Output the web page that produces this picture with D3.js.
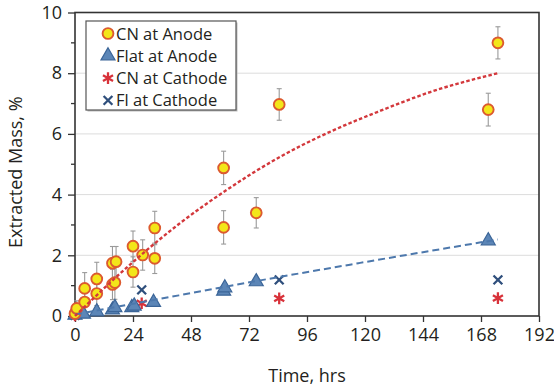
<!DOCTYPE html>
<html>
<head>
<meta charset="utf-8">
<script src="https://cdn.jsdelivr.net/npm/d3@7"></script>
<style>
	body { margin: 0; background: #fff; }
	text { font-family: 'Open Sans', sans-serif; fill: #231f20; }
</style>
</head>
<body>
<div id="chart"></div>
<script>
// CN at Anode: time (hrs), extracted mass (%), error bar half height
const cnAnodeTime = [0, 0.7, 4, 4, 9, 9, 15.5, 16.5, 15.5, 17, 24, 24, 28, 33, 33, 61.5, 61.5, 75, 84.5, 171, 175];
const cnAnodeMass = [0.08, 0.25, 0.46, 0.91, 0.74, 1.22, 1.04, 1.1, 1.74, 1.79, 1.45, 2.3, 2.01, 2.9, 1.9, 4.88, 2.92, 3.4, 6.97, 6.8, 9.0];
const cnAnodeErr = [0.15, 0.25, 0.35, 0.52, 0.4, 0.55, 0.5, 0.55, 0.55, 0.5, 0.5, 0.5, 0.5, 0.55, 0.5, 0.55, 0.55, 0.5, 0.52, 0.54, 0.53];

// Flat at Anode
const flatAnodeTime = [0, 3.5, 9, 15.5, 16.5, 23.5, 24.5, 32.5, 61.5, 62, 75, 171];
const flatAnodeMass = [0.03, 0.06, 0.14, 0.2, 0.28, 0.28, 0.33, 0.45, 0.82, 0.93, 1.13, 2.48];

// CN at Cathode
const cnCathodeTime = [0, 27.6, 84.5, 175];
const cnCathodeMass = [0.02, 0.42, 0.58, 0.59];

// Fl at Cathode
const flCathodeTime = [0, 27.6, 84.5, 175];
const flCathodeMass = [0.02, 0.86, 1.19, 1.19];

// trend lines
const cnFitTime = [0, 24, 43, 64, 85, 105, 126, 147, 175];
const cnFitMass = [0, 1.78, 3.03, 4.22, 5.25, 6.05, 6.75, 7.38, 8.0];
const flatFitTime = [0, 24, 43, 75, 118, 175];
const flatFitMass = [0.05, 0.4, 0.68, 1.15, 1.75, 2.52];

const xTicks = [0, 24, 48, 72, 96, 120, 144, 168, 192];
const yTicks = [0, 2, 4, 6, 8, 10];
const yMinorTicks = [1, 3, 5, 7, 9];
const legendLabels = ['CN at Anode', 'Flat at Anode', 'CN at Cathode', 'Fl at Cathode'];

const W = 554, H = 388;
const margin = { top: 12.5, right: 15, bottom: 72, left: 75 };

const x = d3.scaleLinear().domain([0, 192]).range([margin.left, W - margin.right]);
const y = d3.scaleLinear().domain([0, 10]).range([H - margin.bottom, margin.top]);

const zip = (a, b) => a.map((v, i) => [v, b[i]]);

const svg = d3.select('#chart').append('svg').attr('width', W).attr('height', H);

// gridlines
svg.append('g')
	.selectAll('line')
	.data(yTicks.filter((d) => d > 0 && d < 10))
	.enter()
	.append('line')
	.attr('x1', x(0))
	.attr('x2', x(192))
	.attr('y1', (d) => y(d))
	.attr('y2', (d) => y(d))
	.style('stroke', '#dcdcdc')
	.style('stroke-width', 1);

// x-axis
const xAxis = svg.append('g')
	.attr('transform', 'translate(0,' + y(0) + ')')
	.call(d3.axisBottom(x).tickValues(xTicks).tickSize(6).tickPadding(6.5));
xAxis.select('.domain').remove();
xAxis.selectAll('line').style('stroke', '#333').style('stroke-width', 1.3);
xAxis.selectAll('text').style('font-size', '18px').style('font-family', "'Open Sans', sans-serif").attr('fill', '#231f20');

// y-axis
const yAxis = svg.append('g')
	.attr('transform', 'translate(' + x(0) + ',0)')
	.call(d3.axisLeft(y).tickValues(yTicks).tickSize(7).tickPadding(6));
yAxis.select('.domain').remove();
yAxis.selectAll('line').style('stroke', '#333').style('stroke-width', 1.3);
yAxis.selectAll('text').style('font-size', '18px').style('font-family', "'Open Sans', sans-serif").attr('fill', '#231f20');

svg.append('g')
	.selectAll('line')
	.data(yMinorTicks)
	.enter()
	.append('line')
	.attr('x1', x(0) - 4)
	.attr('x2', x(0))
	.attr('y1', (d) => y(d))
	.attr('y2', (d) => y(d))
	.style('stroke', '#333')
	.style('stroke-width', 1.3);

// frame
svg.append('rect')
	.attr('x', x(0))
	.attr('y', y(10))
	.attr('width', x(192) - x(0))
	.attr('height', y(0) - y(10))
	.style('fill', 'none')
	.style('stroke', '#333')
	.style('stroke-width', 1.6);

// axis titles
svg.append('text')
	.attr('x', (x(0) + x(192)) / 2)
	.attr('y', 382)
	.style('text-anchor', 'middle')
	.style('font-size', '18px')
	.text('Time, hrs');

svg.append('text')
	.attr('transform', 'translate(22,' + ((y(0) + y(10)) / 2 + 8) + ') rotate(-90)')
	.style('text-anchor', 'middle')
	.style('font-size', '18px')
	.text('Extracted Mass, %');

// error bars for CN at Anode
const cnData = cnAnodeTime.map((t, i) => ({ t: t, v: cnAnodeMass[i], e: cnAnodeErr[i] }));
const err = svg.append('g').style('stroke', '#9a9a9a').style('stroke-width', 1.1);
cnData.forEach((d) => {
	err.append('line').attr('x1', x(d.t)).attr('x2', x(d.t)).attr('y1', y(d.v - d.e)).attr('y2', y(d.v + d.e));
	err.append('line').attr('x1', x(d.t) - 2.5).attr('x2', x(d.t) + 2.5).attr('y1', y(d.v + d.e)).attr('y2', y(d.v + d.e));
	err.append('line').attr('x1', x(d.t) - 2.5).attr('x2', x(d.t) + 2.5).attr('y1', y(d.v - d.e)).attr('y2', y(d.v - d.e));
});

// markers
const triangle = d3.symbol().type(d3.symbolTriangle).size(85);
const asterisk = d3.symbol().type(d3.symbolAsterisk).size(95);
const times = d3.symbol().type(d3.symbolTimes).size(52);

const drawCircle = (g, cx, cy) =>
	g.append('circle').attr('cx', cx).attr('cy', cy).attr('r', 5.4)
		.style('fill', '#f3e619').style('stroke', '#dc5a2f').style('stroke-width', 1.9);
const drawTriangle = (g, cx, cy) =>
	g.append('path').attr('d', triangle).attr('transform', 'translate(' + cx + ',' + cy + ')')
		.style('fill', '#5c86b7').style('stroke', '#3b6598').style('stroke-width', 1.2);
const drawAsterisk = (g, cx, cy) =>
	g.append('path').attr('d', asterisk).attr('transform', 'translate(' + cx + ',' + cy + ')')
		.style('fill', 'none').style('stroke', '#d8323a').style('stroke-width', 2.3);
const drawTimes = (g, cx, cy) =>
	g.append('path').attr('d', times).attr('transform', 'translate(' + cx + ',' + cy + ')')
		.style('fill', 'none').style('stroke', '#2f4f7c').style('stroke-width', 2.3);

const marks = svg.append('g');
zip(cnCathodeTime, cnCathodeMass).forEach((d) => drawAsterisk(marks, x(d[0]), y(d[1])));
zip(flCathodeTime, flCathodeMass).forEach((d) => drawTimes(marks, x(d[0]), y(d[1])));
zip(flatAnodeTime, flatAnodeMass).forEach((d) => drawTriangle(marks, x(d[0]), y(d[1])));
cnData.forEach((d) => drawCircle(marks, x(d.t), y(d.v)));

// trend lines
const line = d3.line().x((d) => x(d[0])).y((d) => y(d[1])).curve(d3.curveMonotoneX);
svg.append('path')
	.datum(zip(flatFitTime, flatFitMass))
	.attr('d', line)
	.style('fill', 'none')
	.style('stroke', '#4d78ac')
	.style('stroke-width', 2)
	.style('stroke-dasharray', '7,4');
svg.append('path')
	.datum(zip(cnFitTime, cnFitMass))
	.attr('d', line)
	.style('fill', 'none')
	.style('stroke', '#d3383c')
	.style('stroke-width', 2.4)
	.style('stroke-dasharray', '3.5,2.2');

// legend
const legend = svg.append('g');
legend.append('rect')
	.attr('x', 87.5).attr('y', 22.5).attr('width', 150).attr('height', 89)
	.style('fill', '#bbb');
legend.append('rect')
	.attr('x', 86).attr('y', 21).attr('width', 150).attr('height', 89)
	.style('fill', '#fff').style('stroke', '#555').style('stroke-width', 1.2);
const drawers = [drawCircle, drawTriangle, drawAsterisk, drawTimes];
legendLabels.forEach((label, i) => {
	const ly = 33.5 + i * 22.3;
	drawers[i](legend, 108, ly);
	legend.append('text')
		.attr('x', 116)
		.attr('y', ly + 6)
		.style('font-size', '16.5px')
		.text(label);
});
</script>
</body>
</html>
